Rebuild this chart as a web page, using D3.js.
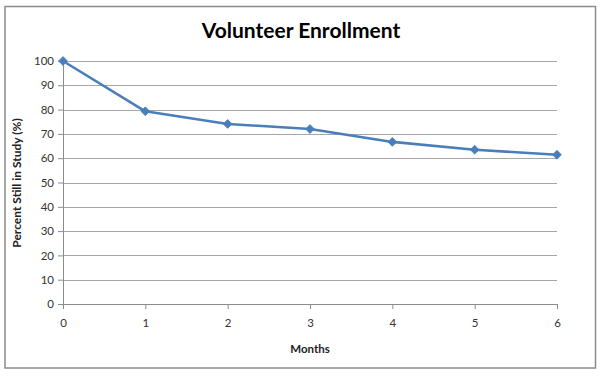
<!DOCTYPE html>
<html><head><meta charset="utf-8">
<script src="https://cdn.jsdelivr.net/npm/d3@7"></script>
<style>body{margin:0;background:#fff}svg{display:block}</style>
</head><body><svg id="c" width="600" height="376"></svg>
<script>
const months = [0, 1, 2, 3, 4, 5, 6];
const percentStill = [100, 79.3, 74.1, 72.0, 66.7, 63.5, 61.4];
const yTicks = [0, 10, 20, 30, 40, 50, 60, 70, 80, 90, 100];
const xTicks = [0, 1, 2, 3, 4, 5, 6];
const titleText = "Volunteer Enrollment";
const xTitle = "Months";
const yTitle = "Percent Still in Study (%)";

const svg = d3.select("#c");
const font = "Lato, 'Open Sans', sans-serif";
svg.append("rect").attr("x", 0).attr("y", 0).attr("width", 600).attr("height", 376).attr("fill", "#fff");
svg.append("rect").attr("x", 5).attr("y", 6.5).attr("width", 590.5).attr("height", 361.5)
  .attr("fill", "none").attr("stroke", "#8c8c8c").attr("stroke-width", 1.5);

const x = d3.scaleLinear().domain([0, 6]).range([63, 557]);
const y = d3.scaleLinear().domain([0, 100]).range([304, 61]);

// gridlines
svg.append("g").selectAll("line").data(yTicks.filter(d => d > 0)).join("line")
  .attr("x1", x(0)).attr("x2", x(6)).attr("y1", d => Math.round(y(d)) + 0.5).attr("y2", d => Math.round(y(d)) + 0.5)
  .attr("stroke", "#a6a6a6").attr("stroke-width", 1);

const yAxis = svg.append("g").attr("transform", `translate(${x(0)},0)`)
  .call(d3.axisLeft(y).tickValues(yTicks).tickFormat(d3.format("d")).tickSize(5).tickPadding(4));
const xAxis = svg.append("g").attr("transform", `translate(0,${y(0)})`)
  .call(d3.axisBottom(x).tickValues(xTicks).tickFormat(d3.format("d")).tickSize(5).tickPadding(10));
[yAxis, xAxis].forEach(a => {
  a.select(".domain").attr("stroke", "#8c8c8c");
  a.selectAll(".tick line").attr("stroke", "#8c8c8c");
  a.selectAll("text").attr("fill", "#333").style("font-family", font).style("font-size", "11.5px");
});

const line = d3.line().x((d, i) => x(months[i])).y(d => y(d));
svg.append("path").datum(percentStill).attr("d", line)
  .attr("fill", "none").attr("stroke", "#4a7ebb").attr("stroke-width", 2.6).attr("stroke-linejoin", "round");
svg.append("g").selectAll("path").data(percentStill).join("path")
  .attr("d", d3.symbol(d3.symbolDiamond2, 50))
  .attr("transform", (d, i) => `translate(${x(months[i])},${y(d)})`)
  .attr("fill", "#4a7ebb").attr("stroke", "#4a7ebb").attr("stroke-width", 0.8);

svg.append("text").attr("x", 301).attr("y", 38).attr("text-anchor", "middle")
  .style("font-family", font).style("font-weight", "bold").style("font-size", "21px").attr("fill", "#000").text(titleText);
svg.append("text").attr("x", x(3)).attr("y", 353).attr("text-anchor", "middle")
  .style("font-family", font).style("font-weight", "bold").style("font-size", "11.5px").attr("fill", "#222").text(xTitle);
svg.append("text").attr("transform", "translate(21,183) rotate(-90)").attr("text-anchor", "middle")
  .style("font-family", font).style("font-weight", "bold").style("font-size", "12px").attr("fill", "#222").text(yTitle);
</script></body></html>
